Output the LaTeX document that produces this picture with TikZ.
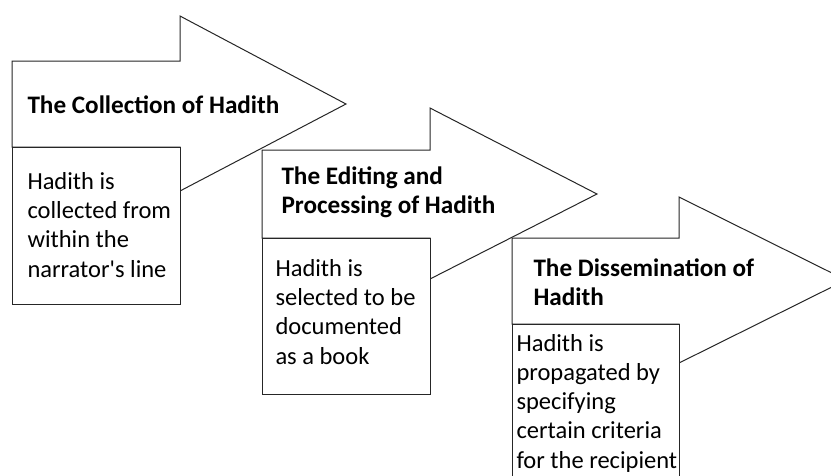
\documentclass[tikz,border=0pt]{standalone}
\usepackage{fontspec}
\setmainfont{Carlito}
\begin{document}
\begin{tikzpicture}[x=1pt,y=-1pt,line width=1pt,
  arrowshape/.style={draw=black!85,fill=white,line join=miter},
  boxshape/.style={draw=black!85,fill=white},
  titletext/.style={anchor=base west,font=\fontsize{25.2}{29}\selectfont\bfseries,align=left,inner sep=0pt},
  bodytext/.style={anchor=base west,font=\fontsize{24.5}{29.2}\selectfont,align=left,inner sep=0pt}]
\useasboundingbox (0,0) rectangle (831,475);
\clip (0,0) rectangle (831,475);
% stage 1
\draw[arrowshape] (12,61) -- (180,61) -- (180,16) -- (346,104) -- (180,191) -- (180,147) -- (12,147) -- cycle;
\draw[boxshape] (12,147) rectangle (180,304);
% stage 2
\draw[arrowshape] (262,150) -- (430,150) -- (430,108) -- (597,194) -- (430,279) -- (430,238) -- (262,238) -- cycle;
\draw[boxshape] (262,238) rectangle (430,394);
% stage 3
\draw[arrowshape] (512,238) -- (679,238) -- (679,197) -- (846,280) -- (679,363) -- (679,324) -- (512,324) -- cycle;
\draw[boxshape] (512,324) rectangle (679,495);
% texts (anchored at the baseline of the last line)
\node[titletext] (t1) at (27,113) {The Collection of Hadith};
\node[bodytext] (b1) at (27,277) {Hadith is\\collected from\\within the\\narrator\textquotesingle s line};
\node[titletext] (t2) at (281,213) {The Editing and\\Processing of Hadith};
\node[bodytext] (b2) at (275,364) {Hadith is\\selected to be\\documented\\as a book};
\node[titletext] (t3) at (533,305) {The Dissemination of\\Hadith};
\node[bodytext] (b3) at (516,468) {Hadith is\\propagated by\\specifying\\certain criteria\\for the recipient};
\end{tikzpicture}
\end{document}
